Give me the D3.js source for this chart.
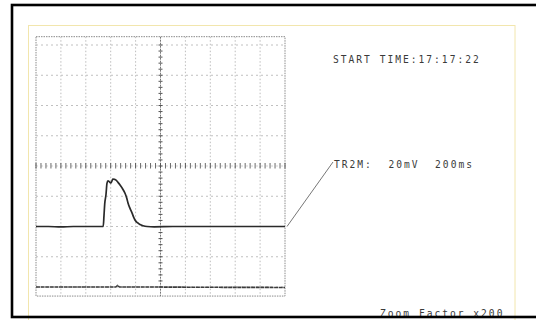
<!DOCTYPE html>
<html>
<head>
<meta charset="utf-8">
<script src="https://cdn.jsdelivr.net/npm/d3@7"></script>
<style>
  html, body { margin: 0; padding: 0; background: #fff; }
  svg { display: block; }
  .mono { font-family: "DejaVu Sans Mono", monospace; fill: #3a3a3a; white-space: pre; }
</style>
</head>
<body>
<svg id="chart" width="536" height="320"></svg>
<script>
// Trace TR2M, time in ms (200 ms/div), voltage in mV (20 mV/div)
const traceTime = [0, 100, 200, 300, 400, 500, 540, 546, 552, 562, 570, 578, 590, 602, 612, 618, 630, 643, 660, 675, 695, 715, 728, 739, 755, 771, 785, 795, 815, 835, 860, 892, 950, 1100, 1300, 1500, 1700, 1900, 2000];
const traceMv   = [-40, -40, -40.3, -40, -40, -40, -40, -33, -25, -19, -11.5, -9.8, -10.5, -11.2, -9.5, -8.6, -8.8, -9.3, -11, -12.6, -15, -18, -21, -24.5, -28, -31, -34, -35.7, -37.5, -38.7, -39.5, -40, -40.2, -40, -40, -40, -40, -40, -40];

// Lower reference trace along the bottom of the screen
const refTime = [0, 400, 640, 655, 670, 900, 1400, 2000];
const refMv   = [-80, -80, -80, -79, -80, -80, -80.2, -80.3];

// Grid divisions
const timeTicks = [0, 200, 400, 600, 800, 1000, 1200, 1400, 1600, 1800, 2000];
const voltTicks = [-80, -60, -40, -20, 0, 20, 40, 60, 80];

// Annotation texts
const startLabel = "START TIME:17:17:22";
const channelLabel = "TR2M:  20mV  200ms";
const zoomLabel = "Zoom Factor x200";

const svg = d3.select("#chart");
const x = d3.scaleLinear().domain([0, 2000]).range([36, 285]);
const y = d3.scaleLinear().domain([-80, 80]).range([287, 45]);

// paper border
svg.append("rect")
  .attr("x", 28.5).attr("y", 25.5).attr("width", 486.5).attr("height", 300)
  .attr("fill", "none").attr("stroke", "#f2e6ad").attr("stroke-width", 1);

const g = svg.append("g");

// screen outline (slightly taller than the graticule)
g.append("rect")
  .attr("x", x(0)).attr("y", y(85.5))
  .attr("width", x(2000) - x(0)).attr("height", y(-86) - y(85.5))
  .attr("fill", "none").attr("stroke", "#8a8a8a").attr("stroke-width", 1)
  .attr("stroke-dasharray", "1.5,1");

// graticule: vertical lines
g.selectAll(".vgrid").data(timeTicks.slice(1, -1)).join("line")
  .attr("class", "vgrid")
  .attr("x1", d => x(d)).attr("x2", d => x(d))
  .attr("y1", y(85.5)).attr("y2", y(-86))
  .attr("stroke", d => d === 1000 ? "#777" : "#bdbdbd")
  .attr("stroke-width", 1)
  .attr("stroke-dasharray", d => d === 1000 ? "2,1" : "1.5,2");

// graticule: horizontal lines
g.selectAll(".hgrid").data(voltTicks).join("line")
  .attr("class", "hgrid")
  .attr("x1", x(0)).attr("x2", x(2000))
  .attr("y1", d => y(d)).attr("y2", d => y(d))
  .attr("stroke", d => d === 0 ? "#cfcfcf" : "#c0c0c0")
  .attr("stroke-width", 1)
  .attr("stroke-dasharray", "2,3");

// minor ticks on the centre axes (5 per division)
const minorT = d3.range(0, 2001, 40);
g.selectAll(".tx").data(minorT).join("line")
  .attr("class", "tx")
  .attr("x1", d => x(d)).attr("x2", d => x(d))
  .attr("y1", y(0) - 3).attr("y2", y(0) + 2.5)
  .attr("stroke", (d, i) => i % 5 === 0 ? "#555" : "#6a6a6a")
  .attr("stroke-width", 1);

const minorV = d3.range(-80, 80.1, 4);
g.selectAll(".ty").data(minorV).join("line")
  .attr("class", "ty")
  .attr("x1", x(1000) - 2).attr("x2", x(1000) + 2)
  .attr("y1", d => y(d)).attr("y2", d => y(d))
  .attr("stroke", "#555").attr("stroke-width", 1);

// lower reference trace
const line = d3.line().x(d => x(d[0])).y(d => y(d[1]));
g.append("path")
  .datum(d3.zip(refTime, refMv))
  .attr("d", line)
  .attr("fill", "none").attr("stroke", "#3c3c3c").attr("stroke-width", 1.6)
  .attr("stroke-dasharray", "4,0.6");

// main trace
g.append("path")
  .datum(d3.zip(traceTime, traceMv))
  .attr("d", line.curve(d3.curveMonotoneX))
  .attr("fill", "none").attr("stroke", "#2a2a2a").attr("stroke-width", 1.7)
  .attr("stroke-linejoin", "round");

// leader from trace end to channel label
const endMv = traceMv[traceMv.length - 1];
g.append("line")
  .attr("x1", x(2000) + 2).attr("y1", y(endMv))
  .attr("x2", 333).attr("y2", 162)
  .attr("stroke", "#777").attr("stroke-width", 1);

// annotations
const txt = (s, tx, ty) => svg.append("text")
  .attr("class", "mono")
  .attr("xml:space", "preserve")
  .attr("x", tx).attr("y", ty)
  .attr("font-size", 9.6)
  .attr("letter-spacing", 2.0)
  .text(s);

txt(startLabel, 333, 63);
txt(channelLabel, 334, 168);
txt(zoomLabel, 380, 317);

// outer frame, drawn last so it overlaps the bottom label
svg.append("rect")
  .attr("x", 12).attr("y", 5).attr("width", 540).attr("height", 312)
  .attr("fill", "none").attr("stroke", "#000").attr("stroke-width", 2.6);
</script>
</body>
</html>
